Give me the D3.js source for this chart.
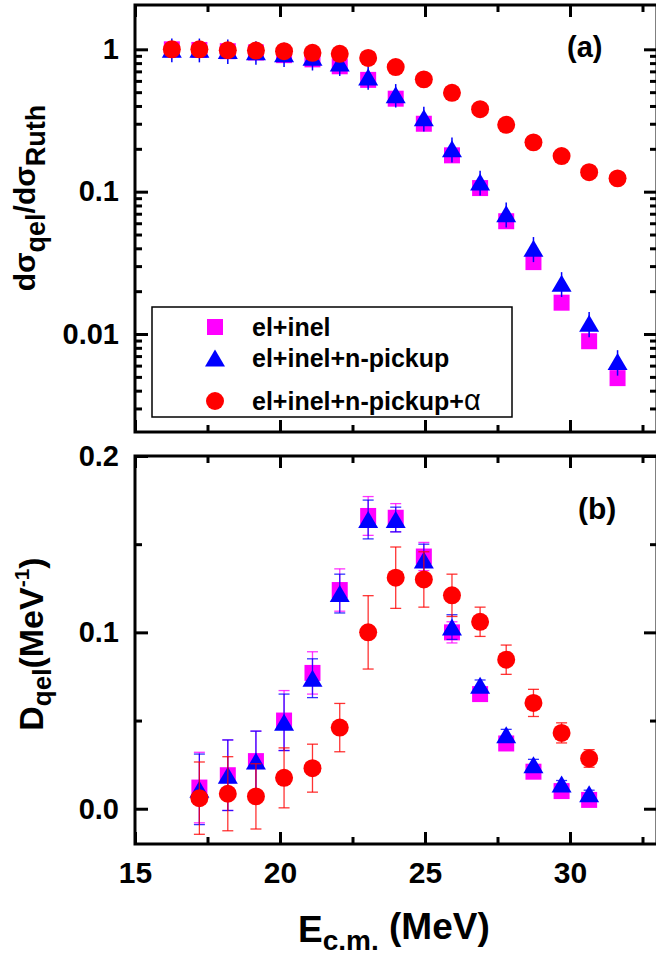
<!DOCTYPE html>
<html><head><meta charset="utf-8">
<script src="https://cdn.jsdelivr.net/npm/d3@7/dist/d3.min.js"></script>
<style>
html,body{margin:0;padding:0;background:#fff;}
svg{display:block;font-family:"Liberation Sans",Arial,sans-serif;font-weight:bold;}
</style></head>
<body><svg id="c" width="656" height="957"></svg>
<script>
// ---- data ----
const energies = [16.27, 17.22, 18.20, 19.17, 20.14, 21.12, 22.06, 23.04, 23.99, 24.96, 25.93, 26.90, 27.80, 28.74, 29.71, 30.66, 31.64];
const seriesNames = ["el+inel", "el+inel+n-pickup", "el+inel+n-pickup+"];
// panel (a): dsigma_qel / dsigma_Ruth
const ratioElInel   = [1.00, 0.99, 0.97, 0.95, 0.91, 0.85, 0.76, 0.61, 0.45, 0.30, 0.180, 0.106, 0.062, 0.032, 0.0166, 0.0089, 0.0049];
const ratioNPickup  = [1.00, 1.00, 0.98, 0.96, 0.93, 0.88, 0.80, 0.64, 0.48, 0.33, 0.200, 0.117, 0.070, 0.040, 0.0227, 0.0119, 0.0064];
const ratioNPickupErr = [0.19, 0.19, 0.19, 0.18, 0.18, 0.17, 0.15, 0.12, 0.09, 0.065, 0.040, 0.023, 0.014, 0.008, 0.0045, 0.0024, 0.0013];
const ratioAlpha    = [1.00, 1.00, 0.985, 0.98, 0.97, 0.945, 0.93, 0.87, 0.75, 0.615, 0.495, 0.38, 0.295, 0.222, 0.178, 0.137, 0.124];
// panel (b): D_qel (MeV^-1), energies[1..15]
const dElInel      = [0.012, 0.019, 0.027, 0.050, 0.077, 0.124, 0.166, 0.165, 0.143, 0.100, 0.065, 0.037, 0.021, 0.010, 0.005];
const dElInelErr   = [0.020, 0.020, 0.017, 0.017, 0.012, 0.012, 0.011, 0.008, 0.008, 0.006, 0.003, 0.003, 0.003, 0.002, 0.002];
const dNPickup     = [0.011, 0.019, 0.027, 0.049, 0.074, 0.122, 0.164, 0.164, 0.141, 0.103, 0.070, 0.042, 0.025, 0.014, 0.0085];
const dNPickupErr  = [0.020, 0.020, 0.017, 0.016, 0.011, 0.011, 0.011, 0.007, 0.009, 0.007, 0.003, 0.003, 0.003, 0.002, 0.002];
const dAlpha       = [0.006, 0.0085, 0.007, 0.0175, 0.023, 0.046, 0.100, 0.131, 0.130, 0.121, 0.106, 0.0845, 0.060, 0.043, 0.0285];
const dAlphaErr    = [0.0205, 0.021, 0.0185, 0.017, 0.0136, 0.0137, 0.0208, 0.0174, 0.0157, 0.012, 0.0083, 0.0083, 0.0077, 0.0057, 0.005];
const xTickValues = [15, 20, 25, 30];
const xMinorValues = [17.5, 22.5, 27.5, 32.5];
const topYTicks = [0.01, 0.1, 1];
const topYLabels = ["0.01", "0.1", "1"];
const botYTicks = [0.0, 0.1, 0.2];
const botYLabels = ["0.0", "0.1", "0.2"];
const botYMinor = [0.05, 0.15];

// ---- layout ----
const svg = d3.select("#c");
const L = 135, R = 657;
const aTop = 5, aBot = 432, bTop = 456, bBot = 844;
const x = d3.scaleLinear().domain([15, 33]).range([L, R]);
const yA = d3.scaleLog().domain([0.00205, 2.048]).range([aBot, aTop]);
const yB = d3.scaleLinear().domain([-0.02, 0.2]).range([bBot, bTop]);
const cMag = "#ff00ff", cBlue = "#0000ff", cRed = "#ff0000";

const triType = { draw(ctx, size) { const w = 20, h = 17; ctx.moveTo(0, -h/2); ctx.lineTo(w/2, h/2); ctx.lineTo(-w/2, h/2); ctx.closePath(); } };
const sq = d3.symbol().type(d3.symbolSquare).size(256)();
const tri = d3.symbol().type(triType)();
const circ = d3.symbol().type(d3.symbolCircle).size(254)();

function styleAxis(g, fs) {
  g.select(".domain").remove();
  g.selectAll(".tick line").attr("stroke", "#000").attr("stroke-width", 3);
  g.selectAll("text").attr("font-size", fs).attr("font-weight", "bold").attr("fill", "#000")
    .attr("font-family", "Liberation Sans, Arial, sans-serif");
}
function logMinor() { const v = []; for (let e = -3; e <= 0; e++) for (let m = 2; m <= 9; m++) { const t = m * Math.pow(10, e); if (t > 0.00205 && t < 1.5) v.push(t); } return v; }

function xAxes(top, bot, labels) {
  svg.append("g").attr("transform", `translate(0,${top})`).call(d3.axisTop(x).tickValues(xTickValues).tickSize(-12).tickFormat("")).call(g => styleAxis(g, 30));
  svg.append("g").attr("transform", `translate(0,${top})`).call(d3.axisTop(x).tickValues(xMinorValues).tickSize(-7).tickFormat("")).call(g => styleAxis(g, 30));
  svg.append("g").attr("transform", `translate(0,${bot})`).call(d3.axisBottom(x).tickValues(xTickValues).tickSize(-12).tickPadding(18).tickFormat(labels ? d3.format("d") : "")).call(g => styleAxis(g, 30));
  svg.append("g").attr("transform", `translate(0,${bot})`).call(d3.axisBottom(x).tickValues(xMinorValues).tickSize(-7).tickFormat("")).call(g => styleAxis(g, 30));
}

// ---- panel (a) ----
xAxes(aTop, aBot, false);
svg.append("g").attr("transform", `translate(${L},0)`).call(d3.axisLeft(yA).tickValues(topYTicks).tickSize(-13).tickPadding(16).tickFormat((d, i) => topYLabels[i])).call(g => styleAxis(g, 29));
svg.append("g").attr("transform", `translate(${L},0)`).call(d3.axisLeft(yA).tickValues(logMinor()).tickSize(-7).tickFormat("")).call(g => styleAxis(g, 29));
svg.append("g").attr("transform", `translate(${R},0)`).call(d3.axisRight(yA).tickValues(topYTicks).tickSize(-13).tickFormat("")).call(g => styleAxis(g, 29));
svg.append("g").attr("transform", `translate(${R},0)`).call(d3.axisRight(yA).tickValues(logMinor()).tickSize(-7).tickFormat("")).call(g => styleAxis(g, 29));
svg.append("rect").attr("x", L).attr("y", aTop).attr("width", R - L).attr("height", aBot - aTop).attr("fill", "none").attr("stroke", "#000").attr("stroke-width", 3);

const gA = svg.append("g");
gA.selectAll(".sqa").data(ratioElInel).join("path").attr("d", sq).attr("fill", cMag)
  .attr("transform", (d, i) => `translate(${x(energies[i])},${yA(d)})`);
gA.selectAll(".eba").data(ratioNPickup).join("line").attr("stroke", cBlue).attr("stroke-width", 1.5)
  .attr("x1", (d, i) => x(energies[i])).attr("x2", (d, i) => x(energies[i]))
  .attr("y1", (d, i) => yA(d + ratioNPickupErr[i])).attr("y2", (d, i) => yA(d - ratioNPickupErr[i]));
gA.selectAll(".tra").data(ratioNPickup).join("path").attr("d", tri).attr("fill", cBlue)
  .attr("transform", (d, i) => `translate(${x(energies[i])},${yA(d)})`);
gA.selectAll(".cia").data(ratioAlpha).join("path").attr("d", circ).attr("fill", cRed)
  .attr("transform", (d, i) => `translate(${x(energies[i])},${yA(d)})`);

svg.append("text").attr("x", 567).attr("y", 57).attr("font-size", 29).text("(a)");

// legend
svg.append("rect").attr("x", 152).attr("y", 307).attr("width", 360).attr("height", 110).attr("fill", "#fff").attr("stroke", "#000").attr("stroke-width", 1.5);
const legRows = [327, 358, 401];
const legBase = [336, 367, 410];
const legSyms = [[sq, cMag], [tri, cBlue], [circ, cRed]];
legRows.forEach((yy, i) => {
  svg.append("path").attr("d", legSyms[i][0]).attr("fill", legSyms[i][1]).attr("transform", `translate(215,${yy})`);
  const t = svg.append("text").attr("x", 252).attr("y", legBase[i]).attr("font-size", 25).text(seriesNames[i]);
  if (i === 2) t.append("tspan").attr("font-weight", "normal").attr("font-family", "Liberation Sans, Arial").attr("font-size", 29).text("α");
});

// y label (a)
const ya = svg.append("text").attr("transform", "translate(35,198) rotate(-90)").attr("text-anchor", "middle").attr("font-size", 30);
ya.append("tspan").text("dσ");
ya.append("tspan").attr("font-size", 27).attr("dy", 10).text("qel");
ya.append("tspan").attr("dy", -10).text("/dσ");
ya.append("tspan").attr("font-size", 27).attr("dy", 10).text("Ruth");

// ---- panel (b) ----
xAxes(bTop, bBot, true);
svg.append("g").attr("transform", `translate(${L},0)`).call(d3.axisLeft(yB).tickValues(botYTicks).tickSize(-13).tickPadding(16).tickFormat((d, i) => botYLabels[i])).call(g => styleAxis(g, 29));
svg.append("g").attr("transform", `translate(${L},0)`).call(d3.axisLeft(yB).tickValues(botYMinor).tickSize(-7).tickFormat("")).call(g => styleAxis(g, 29));
svg.append("g").attr("transform", `translate(${R},0)`).call(d3.axisRight(yB).tickValues(botYTicks).tickSize(-13).tickFormat("")).call(g => styleAxis(g, 29));
svg.append("g").attr("transform", `translate(${R},0)`).call(d3.axisRight(yB).tickValues(botYMinor).tickSize(-7).tickFormat("")).call(g => styleAxis(g, 29));
svg.append("rect").attr("x", L).attr("y", bTop).attr("width", R - L).attr("height", bBot - bTop).attr("fill", "none").attr("stroke", "#000").attr("stroke-width", 3);

const eB = energies.slice(1, 16);
function errBars(g, vals, errs, color) {
  const gg = g.append("g").attr("stroke", color).attr("stroke-width", 1.3).attr("stroke-opacity", 0.8);
  vals.forEach((v, i) => {
    const cx = x(eB[i]), y1 = yB(v + errs[i]), y2 = yB(v - errs[i]);
    gg.append("line").attr("x1", cx).attr("x2", cx).attr("y1", y1).attr("y2", y2);
    gg.append("line").attr("x1", cx - 5.5).attr("x2", cx + 5.5).attr("y1", y1).attr("y2", y1);
    gg.append("line").attr("x1", cx - 5.5).attr("x2", cx + 5.5).attr("y1", y2).attr("y2", y2);
  });
}
const gB = svg.append("g");
errBars(gB, dElInel, dElInelErr, cMag);
gB.selectAll(".sqb").data(dElInel).join("path").attr("d", sq).attr("fill", cMag)
  .attr("transform", (d, i) => `translate(${x(eB[i])},${yB(d)})`);
errBars(gB, dNPickup, dNPickupErr, cBlue);
gB.selectAll(".trb").data(dNPickup).join("path").attr("d", tri).attr("fill", cBlue)
  .attr("transform", (d, i) => `translate(${x(eB[i])},${yB(d)})`);
errBars(gB, dAlpha, dAlphaErr, cRed);
gB.selectAll(".cib").data(dAlpha).join("path").attr("d", circ).attr("fill", cRed)
  .attr("transform", (d, i) => `translate(${x(eB[i])},${yB(d)})`);

svg.append("text").attr("x", 578).attr("y", 519).attr("font-size", 30).text("(b)");

// y label (b)
const yb = svg.append("text").attr("transform", "translate(43,644) rotate(-90)").attr("text-anchor", "middle").attr("font-size", 34);
yb.append("tspan").text("D");
yb.append("tspan").attr("font-size", 26).attr("dy", 8).text("qel");
yb.append("tspan").attr("dy", -8).text("(MeV");
yb.append("tspan").attr("font-size", 21).attr("dy", -14).text("-1");
yb.append("tspan").attr("dy", 14).text(")");

// x label
const xl = svg.append("text").attr("x", 298).attr("y", 942).attr("font-size", 37);
xl.append("tspan").text("E");
xl.append("tspan").attr("font-size", 28).attr("dy", 8).text("c.m.");
xl.append("tspan").attr("dy", -11).text(" (MeV)");
</script>
</body></html>
